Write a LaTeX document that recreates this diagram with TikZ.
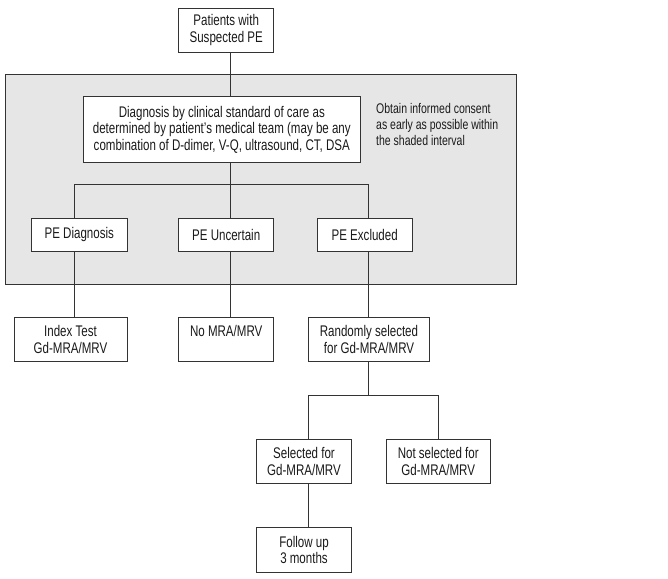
\documentclass[tikz,border=0pt]{standalone}
\usepackage{fontspec}
\setmainfont{Liberation Sans}[FakeStretch=0.75]
\definecolor{linec}{HTML}{333333}
\definecolor{shade}{HTML}{E6E6E6}
\definecolor{txt}{HTML}{1A1A1A}
\begin{document}
\begin{tikzpicture}[x=1pt,y=-1pt,
  box/.style={draw=linec, line width=0.9pt, fill=white, inner sep=0pt, align=center,
    font=\fontsize{15.4}{16.7}\selectfont, text=txt},
  conn/.style={draw=linec, line width=0.9pt}]
\useasboundingbox[fill=white] (0,0) rectangle (668,578);
% shaded interval
\node[draw=linec, line width=0.9pt, fill=shade, inner sep=0pt, minimum width=510.7pt, minimum height=210pt] (shaded) at (260.65,179.7) {};
\node[anchor=north west, inner sep=0pt, align=left, text=txt, font=\fontsize{14}{15.6}\selectfont] (note) at (376,103.5)
  {Obtain informed consent\\as early as possible within\\the shaded interval};
% boxes
\node[box, minimum width=95pt, minimum height=44.3pt] (top) at (226.2,30.2) {Patients with\\Suspected PE};
\node[box, minimum width=277pt, minimum height=66pt] (diag) at (221.8,129.7)
  {Diagnosis by clinical standard of care as\\determined by patient's medical team (may be any\\combination of D-dimer, V-Q, ultrasound, CT, DSA};
\node[box, minimum width=95.3pt, minimum height=32.7pt] (pediag) at (79.3,234.7) {PE Diagnosis};
\node[box, minimum width=95pt, minimum height=32.7pt] (peunc) at (226.2,234.7) {PE Uncertain};
\node[box, minimum width=95.3pt, minimum height=32.7pt] (peexc) at (364.7,234.7) {PE Excluded};
\node[box, minimum width=113pt, minimum height=44.4pt] (index) at (70.5,339.5) {Index Test\\Gd-MRA/MRV};
\node[box, minimum width=95pt, minimum height=44.4pt] (nomra) at (226.2,339.5) {No MRA/MRV\\\mbox{}};
\node[box, minimum width=121.4pt, minimum height=44.4pt] (random) at (369,339.5) {Randomly selected\\for Gd-MRA/MRV};
\node[box, minimum width=95.4pt, minimum height=44.4pt] (sel) at (304,461.5) {Selected for\\Gd-MRA/MRV};
\node[box, minimum width=104.3pt, minimum height=44.4pt] (notsel) at (438.2,461.5) {Not selected for\\Gd-MRA/MRV};
\node[box, minimum width=95.4pt, minimum height=44.6pt] (follow) at (304,550) {Follow up\\3 months};
% junction coordinates
\coordinate (xc) at (230.3,184.7);
\coordinate (xl) at (74.7,184.7);
\coordinate (xr) at (368.7,184.7);
\coordinate (rj) at (368.7,395.3);
\coordinate (rl) at (308.3,395.3);
\coordinate (rr) at (438,395.3);
% connectors
\draw[conn] (top.south -| xc) -- (diag.north -| xc);
\draw[conn] (diag.south -| xc) -- (xc);
\draw[conn] (pediag.north -| xl) -- (xl) -- (xr) -- (peexc.north -| xr);
\draw[conn] (xc) -- (peunc.north -| xc);
\draw[conn] (pediag.south -| xl) -- (index.north -| xl);
\draw[conn] (peunc.south -| xc) -- (nomra.north -| xc);
\draw[conn] (peexc.south -| xr) -- (random.north -| xr);
\draw[conn] (random.south -| rj) -- (rj);
\draw[conn] (sel.north -| rl) -- (rl) -- (rr) -- (notsel.north -| rr);
\draw[conn] (sel.south -| rl) -- (follow.north -| rl);
\end{tikzpicture}
\end{document}
